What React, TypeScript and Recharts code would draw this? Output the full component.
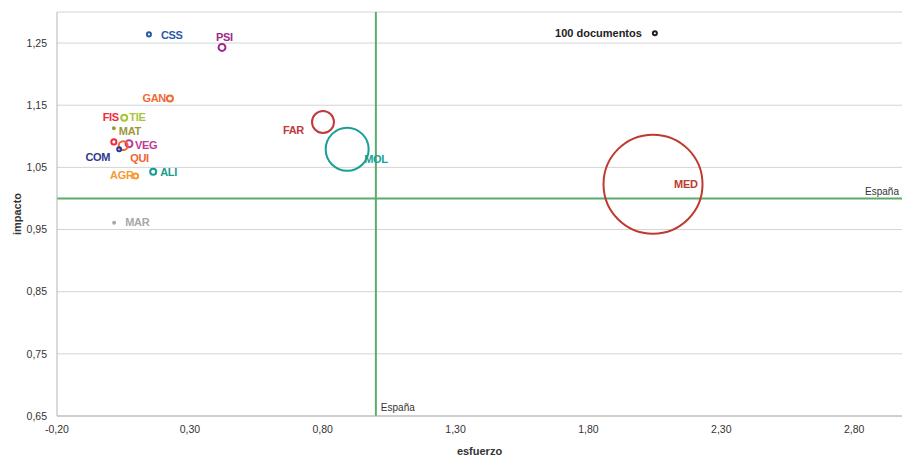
import { ScatterChart, Scatter, XAxis, YAxis, ZAxis, CartesianGrid, ReferenceLine, Label } from 'recharts';

// áreas (siglas) y valores
const areas = ['CSS', 'PSI', 'GAN', 'TIE', 'MAT', 'FIS', 'VEG', 'QUI', 'COM', 'AGR', 'ALI', 'MAR', 'FAR', 'MOL', 'MED', '100 documentos'];
const esfuerzo = [0.146, 0.421, 0.225, 0.053, 0.014, 0.014, 0.071, 0.049, 0.034, 0.096, 0.162, 0.015, 0.801, 0.892, 2.043, 2.05];
const impacto = [1.264, 1.243, 1.161, 1.13, 1.113, 1.091, 1.088, 1.085, 1.079, 1.036, 1.043, 0.961, 1.123, 1.079, 1.023, 1.266];
const documentos = [100, 300, 225, 225, 25, 160, 300, 500, 100, 160, 225, 25, 3000, 11500, 61000, 100];

const xTicks = [-0.2, 0.3, 0.8, 1.3, 1.8, 2.3, 2.8];
const yTicks = [0.65, 0.75, 0.85, 0.95, 1.05, 1.15, 1.25];

const data = areas.map((area, i) => ({
  area,
  esfuerzo: esfuerzo[i],
  impacto: impacto[i],
  documentos: documentos[i],
}));

const colores: Record<string, string> = {
  CSS: '#2b59a8',
  PSI: '#9c2a8c',
  GAN: '#f26a35',
  TIE: '#a6c63c',
  MAT: '#9c973a',
  FIS: '#ee2a3a',
  VEG: '#c03a95',
  QUI: '#f2612e',
  COM: '#2e3a8f',
  AGR: '#f79a32',
  ALI: '#179c90',
  MAR: '#a8a8a8',
  FAR: '#c0393b',
  MOL: '#16a096',
  MED: '#c0392f',
  '100 documentos': '#222222',
};

// posición de cada etiqueta respecto al centro de la burbuja
const etiquetas: Record<string, { dx: number; dy: number; anchor: 'start' | 'end' }> = {
  CSS: { dx: 12, dy: 1, anchor: 'start' },
  PSI: { dx: -6, dy: -10, anchor: 'start' },
  GAN: { dx: -4, dy: 0, anchor: 'end' },
  TIE: { dx: 5, dy: -1, anchor: 'start' },
  MAT: { dx: 5, dy: 3, anchor: 'start' },
  FIS: { dx: 5, dy: -25, anchor: 'end' },
  VEG: { dx: 6, dy: 1, anchor: 'start' },
  QUI: { dx: 7, dy: 12, anchor: 'start' },
  COM: { dx: -9, dy: 8, anchor: 'end' },
  AGR: { dx: -2, dy: -1, anchor: 'end' },
  ALI: { dx: 7, dy: 0, anchor: 'start' },
  MAR: { dx: 11, dy: -1, anchor: 'start' },
  FAR: { dx: -19, dy: 7.5, anchor: 'end' },
  MOL: { dx: 17, dy: 10, anchor: 'start' },
  MED: { dx: 21, dy: 0, anchor: 'start' },
  '100 documentos': { dx: -13, dy: 0, anchor: 'end' },
};

const coma = (v: number) => v.toFixed(2).replace('.', ',');

const Burbuja = (props: any) => {
  const { cx, cy, width, size, payload } = props;
  const r = width ? width / 2 : Math.sqrt(Math.max(size || 0, 0) / Math.PI);
  const color = colores[payload.area];
  const et = etiquetas[payload.area];
  const esLeyenda = payload.area === '100 documentos';
  return (
    <g>
      <circle cx={cx} cy={cy} r={r} fill="none" stroke={color} strokeWidth={2} />
      <text
        x={cx + et.dx}
        y={cy + et.dy}
        textAnchor={et.anchor}
        dominantBaseline="central"
        fill={esLeyenda ? '#222' : color}
        fontSize={11}
        fontWeight="bold"
        letterSpacing={esLeyenda ? 0 : -0.3}
        fontFamily="'Liberation Sans', Arial, sans-serif"
      >
        {payload.area}
      </text>
    </g>
  );
};

export default function App() {
  return (
    <div style={{ position: 'absolute', left: 0, top: 0, background: '#fff' }}>
      <ScatterChart width={902} height={458} margin={{ top: 12, right: 0, bottom: 0, left: 0 }}>
        <CartesianGrid vertical={false} stroke="#d4d4d4" />
        <XAxis
          type="number"
          dataKey="esfuerzo"
          domain={[-0.2, 2.98]}
          ticks={xTicks}
          allowDataOverflow
          tickFormatter={coma}
          tickLine={false}
          tickSize={6}
          tickMargin={4}
          height={42}
          axisLine={{ stroke: '#b4b4b4' }}
          tick={{ fill: '#333', fontSize: 10.5, fontFamily: "'Liberation Sans', Arial, sans-serif" }}
        >
          <Label
            value="esfuerzo"
            position="insideBottom"
            offset={3}
            style={{ fontWeight: 'bold', fontSize: 11, fill: '#333', fontFamily: "'Liberation Sans', Arial, sans-serif" }}
          />
        </XAxis>
        <YAxis
          type="number"
          dataKey="impacto"
          domain={[0.65, 1.3]}
          ticks={yTicks}
          allowDataOverflow
          tickFormatter={coma}
          tickLine={false}
          tickSize={6}
          tickMargin={4}
          width={57}
          axisLine={{ stroke: '#b4b4b4' }}
          tick={{ fill: '#333', fontSize: 10.5, fontFamily: "'Liberation Sans', Arial, sans-serif" }}
        >
          <Label
            value="impacto"
            angle={-90}
            position="insideLeft"
            offset={17}
            style={{ fontWeight: 'bold', fontSize: 11, fill: '#333', textAnchor: 'middle', fontFamily: "'Liberation Sans', Arial, sans-serif" }}
          />
        </YAxis>
        <ZAxis type="number" dataKey="documentos" domain={[0, 61000]} range={[0, 7698]} />
        <ReferenceLine x={1} stroke="#5aac6e" strokeWidth={2}>
          <Label
            value="España"
            position="insideBottomLeft"
            offset={5}
            style={{ fontSize: 10, fill: '#333', fontFamily: "'Liberation Sans', Arial, sans-serif" }}
          />
        </ReferenceLine>
        <ReferenceLine y={1} stroke="#5aac6e" strokeWidth={2}>
          <Label
            value="España"
            position="insideBottomRight"
            offset={3}
            style={{ fontSize: 10, fill: '#333', fontFamily: "'Liberation Sans', Arial, sans-serif" }}
          />
        </ReferenceLine>
        <Scatter data={data} shape={Burbuja} isAnimationActive={false} />
      </ScatterChart>
    </div>
  );
}
